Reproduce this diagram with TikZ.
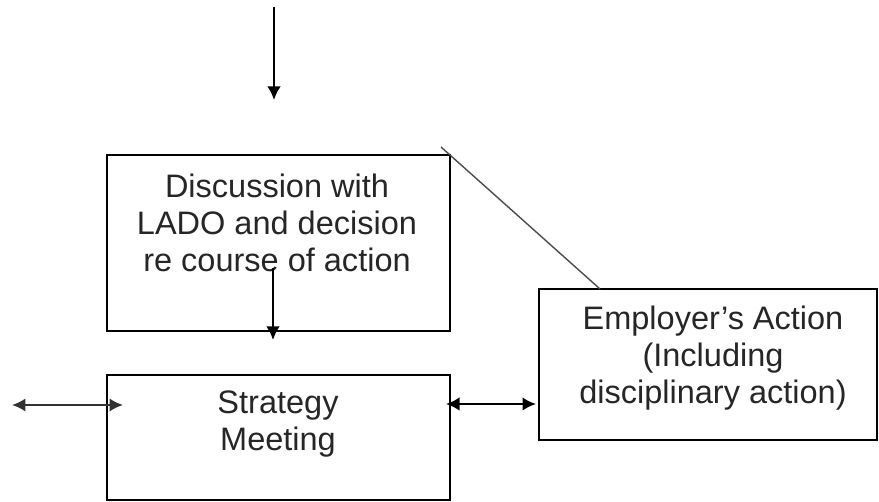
\documentclass[tikz,border=0pt]{standalone}
\usepackage{fontspec}
\setmainfont{Liberation Sans}
\usepackage{tikz}
\usetikzlibrary{arrows.meta}
\usetikzlibrary{positioning}

\begin{document}
\begin{tikzpicture}[x=0.02cm, y=-0.02cm]
				\tikzstyle{boxnode}=[draw=black, line width=0.9pt, fill=none, inner sep=0pt]
				\tikzstyle{textnode}=[align=center, text=black!85, font=\fontsize{18.5}{21}\selectfont]
				\tikzstyle{flow}=[line width=1.15pt, -{Latex[length=0.27cm,width=0.27cm]}]
				\tikzstyle{both}=[line width=1.15pt, {Latex[length=0.27cm,width=0.27cm]}-{Latex[length=0.27cm,width=0.27cm]}]
				
				\useasboundingbox (0,0) rectangle (879,502);
				
				\node (disc) at (278.5,243) [boxnode, minimum width=6.86cm, minimum height=3.52cm] {};
				\node (strat) at (278.5,437.5) [boxnode, minimum width=6.86cm, minimum height=2.5cm] {};
				\node (empl) at (708,364.5) [boxnode, minimum width=6.76cm, minimum height=3.02cm] {};
				
				\node (discT) at (277,223) [textnode] {Discussion with\\LADO and decision\\re course of action};
				\node (stratT) at (278,424) [textnode] {Strategy\\Meeting};
				\node (emplT) at (713,358) [textnode] {Employer’s Action\\(Including\\disciplinary action)};
				
				\coordinate (top0) at (274,7);
				\coordinate (top1) at (274,100);
				\coordinate (mid0) at (273,268);
				\coordinate (mid1) at (273,340);
				\coordinate (left0) at (12,405);
				\coordinate (left1) at (123,405);
				\coordinate (right0) at (446,404);
				\coordinate (right1) at (536,404);
				\coordinate (diag0) at (441,147);
				\coordinate (diag1) at (600,289);
				
				\draw [flow] (top0) -- (top1);
				\draw [flow] (mid0) -- (mid1);
				\draw [both, line width=1.4pt, black!80] (left0) -- (left1);
				\draw [both] (right0) -- (right1);
				\draw [line width=0.8pt, black!70] (diag0) -- (diag1);
				
\end{tikzpicture}
\end{document}
